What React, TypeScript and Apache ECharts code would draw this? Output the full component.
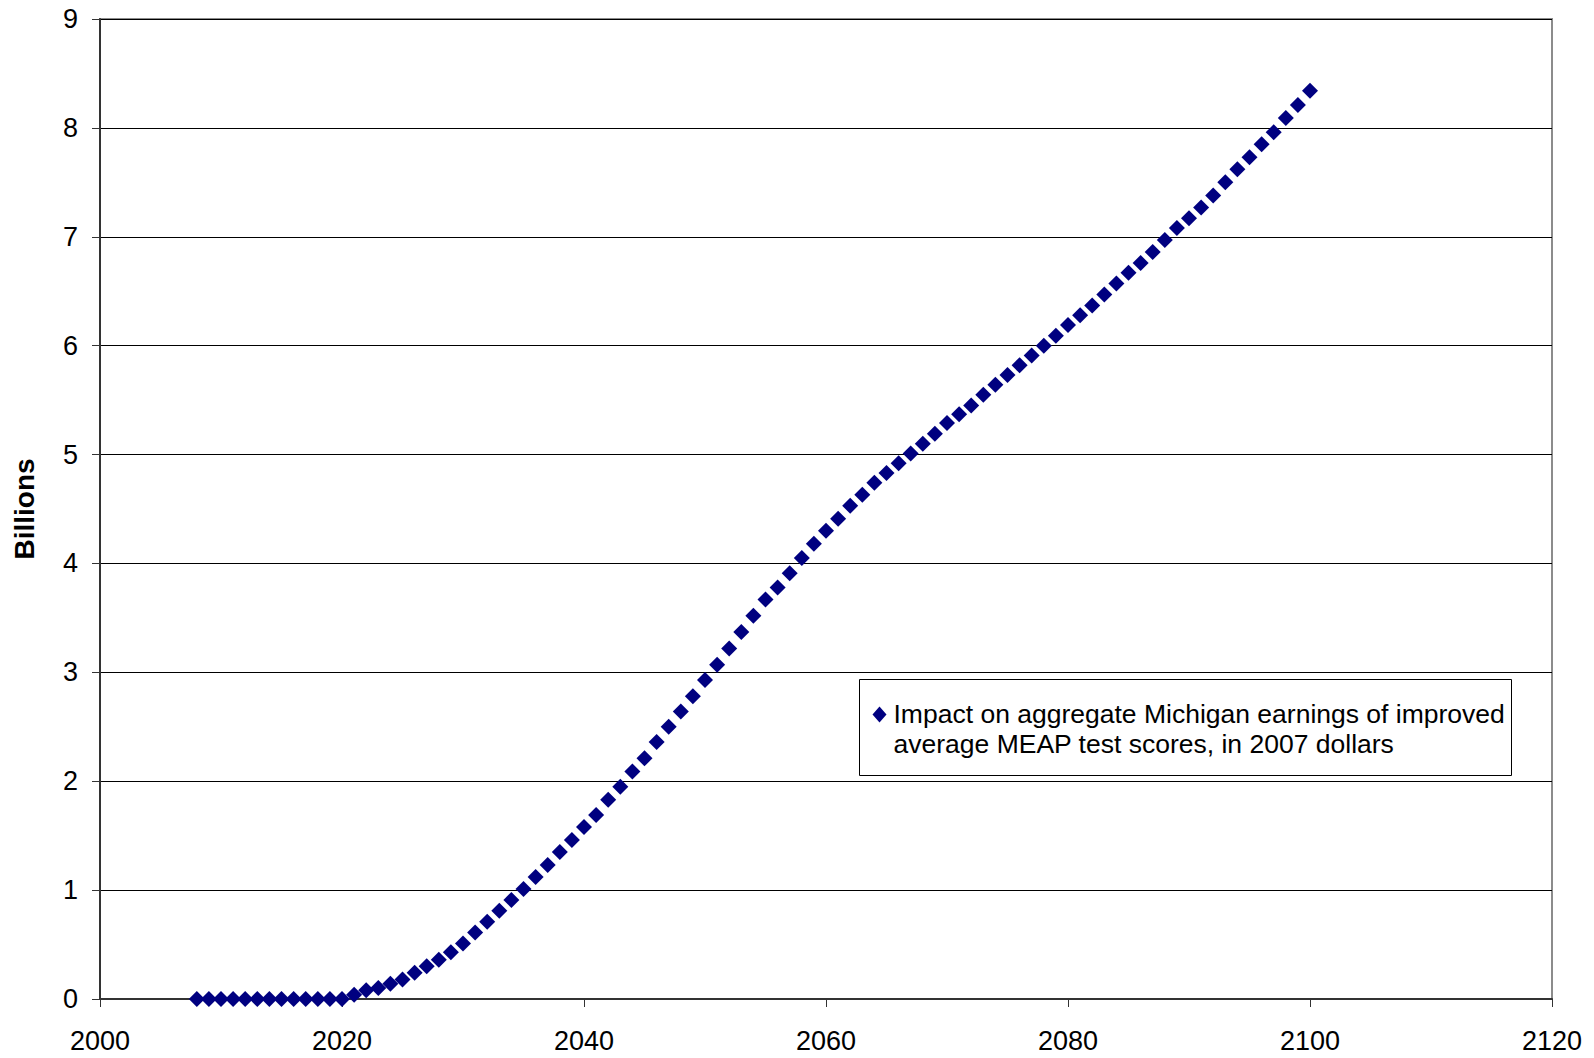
import React, { useEffect, useRef } from "react";
import * as echarts from "echarts";

const years: number[] = [];
for (let y = 2008; y <= 2100; y++) years.push(y);

const values: number[] = [
  0, 0, 0, 0, 0, 0, 0, 0, 0, 0, 0, 0, 0,
  0.04, 0.08, 0.1, 0.14, 0.18, 0.24, 0.3, 0.36, 0.43, 0.51,
  0.61, 0.71, 0.81, 0.91, 1.01, 1.12, 1.23, 1.35, 1.46, 1.58,
  1.69, 1.83, 1.95, 2.09, 2.21, 2.36, 2.5, 2.64, 2.78, 2.93,
  3.07, 3.22, 3.37, 3.52, 3.67, 3.78, 3.91, 4.05, 4.18, 4.3,
  4.41, 4.53, 4.63, 4.74, 4.83, 4.92, 5.01, 5.1, 5.19, 5.29,
  5.37, 5.45, 5.55, 5.64, 5.73, 5.82, 5.91, 6.0, 6.09, 6.19,
  6.28, 6.37, 6.47, 6.57, 6.67, 6.76, 6.86, 6.97, 7.08, 7.17,
  7.27, 7.38, 7.5, 7.62, 7.73, 7.85, 7.96, 8.09, 8.21, 8.34,
];

const seriesName = "Impact on aggregate Michigan earnings of improved\naverage MEAP test scores, in 2007 dollars";
const yAxisName = "Billions";
const xMin = 2000, xMax = 2120, xStep = 20;
const yMin = 0, yMax = 9, yStep = 1;

const FONT = '"Liberation Sans", Arial, sans-serif';

export default function App() {
  const ref = useRef<HTMLDivElement>(null);
  useEffect(() => {
    if (!ref.current) return;
    const chart = echarts.init(ref.current, undefined, { renderer: "svg" });
    const data = years.map((y, i) => [y, values[i]]);
    chart.setOption({
      animation: false,
      backgroundColor: "#fff",
      textStyle: { fontFamily: FONT },
      grid: {
        left: 100,
        right: 42,
        top: 19,
        bottom: 59,
        show: true,
        borderColor: "#8c8c8c",
        borderWidth: 2,
      },
      xAxis: {
        type: "value",
        min: xMin,
        max: xMax,
        interval: xStep,
        splitLine: { show: false },
        axisLine: { lineStyle: { color: "#333", width: 2 } },
        axisTick: { show: true, inside: false, length: 8, lineStyle: { color: "#333", width: 1 } },
        axisLabel: {
          color: "#000",
          fontSize: 27,
          fontFamily: FONT,
          margin: 28,
          formatter: (v: number) => String(v),
        },
      },
      yAxis: {
        type: "value",
        min: yMin,
        max: yMax,
        interval: yStep,
        name: yAxisName,
        nameLocation: "middle",
        nameRotate: 90,
        nameGap: 62,
        nameTextStyle: { color: "#000", fontSize: 28, fontWeight: "bold", fontFamily: FONT },
        splitLine: { show: true, lineStyle: { color: "#000", width: 1 } },
        axisLine: { show: true, lineStyle: { color: "#333", width: 2 } },
        axisTick: { show: true, inside: false, length: 8, lineStyle: { color: "#333", width: 1 } },
        axisLabel: { color: "#000", fontSize: 27, fontFamily: FONT, margin: 22 },
      },
      series: [
        {
          name: seriesName,
          type: "scatter",
          symbol: "diamond",
          symbolSize: 16,
          itemStyle: { color: "#000080", opacity: 1 },
          emphasis: { disabled: true },
          data,
        },
      ],
      graphic: [
        {
          type: "group",
          left: 859,
          top: 679,
          children: [
            {
              type: "rect",
              shape: { x: 0, y: 0, width: 652, height: 96 },
              style: { fill: "#fff", stroke: "#000", lineWidth: 1 },
            },
            {
              type: "polygon",
              shape: { points: [[20, 27], [27, 35], [20, 43], [13, 35]] },
              style: { fill: "#000080" },
            },
            {
              type: "text",
              x: 34,
              y: 19,
              style: {
                text: seriesName,
                font: `26.5px ${FONT}`,
                lineHeight: 30,
                fill: "#000",
                verticalAlign: "top",
                align: "left",
              },
            },
          ],
        },
      ],
    });
    return () => chart.dispose();
  }, []);
  return (
    <div
      ref={ref}
      style={{ position: "absolute", left: 0, top: 0, width: 1594, height: 1058, background: "#fff" }}
    />
  );
}
